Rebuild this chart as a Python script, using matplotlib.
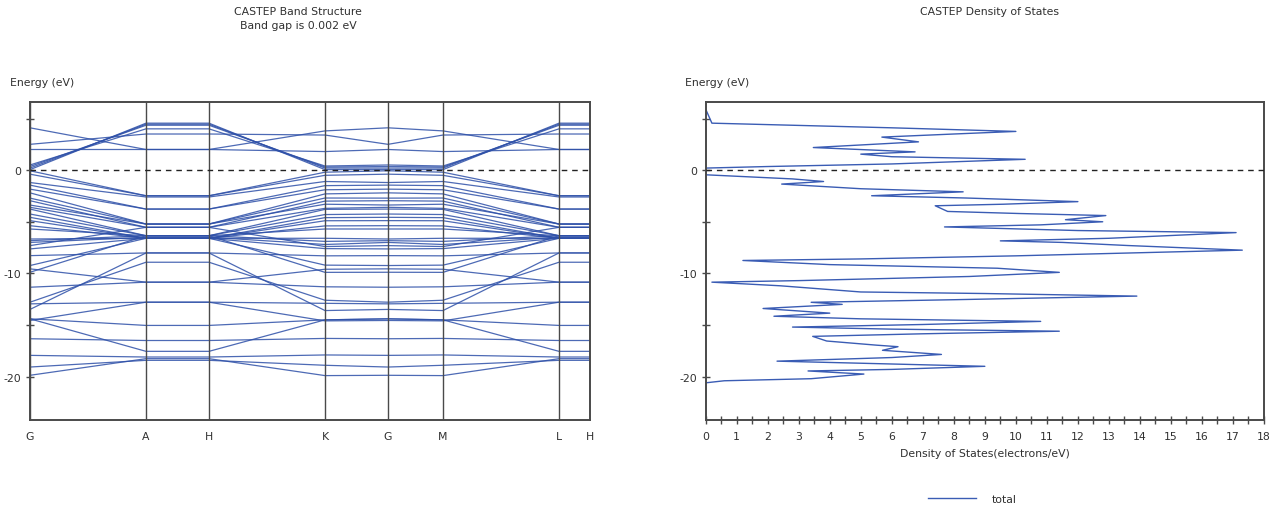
import numpy as np
import matplotlib.pyplot as plt
from matplotlib.ticker import MultipleLocator, FixedLocator, NullFormatter

plt.rcParams['font.family'] = 'DejaVu Sans'
plt.rcParams['font.size'] = 7.8
plt.rcParams['axes.unicode_minus'] = False

# k-path through the Brillouin zone
k_labels = ['G', 'A', 'H', 'K', 'G', 'M', 'L', 'H']
k_dist = [0, 116, 179, 295, 358, 413, 529, 560]

# band energies (eV) at Gamma, at K/M and at A/H/L
e_gamma = [0.05, 0.2, 0.35, 0.5, 2.0, 2.5, 4.1,
           -0.06, -0.39, -1.2, -1.45, -1.84, -2.2, -2.71, -2.96, -3.38, -3.6,
           -3.77, -4.25, -4.57, -4.89, -5.38, -5.70, -6.67, -6.83, -7.0, -7.31,
           -7.63, -8.28, -9.24, -9.56, -9.89, -11.34, -12.79, -12.95, -13.49,
           -14.4, -14.56, -14.4, -16.33, -17.94, -19.07, -19.87]
e_km = [0.05, 0.2, 0.3, 0.4, 1.8, 3.4, 3.8,
        -0.2, -0.5, -1.1, -1.5, -1.9, -2.3, -2.7, -3.0, -3.3, -3.7,
        -3.8, -4.3, -4.6, -4.9, -5.4, -5.7, -6.6, -6.9, -7.2, -7.4,
        -7.6, -8.3, -9.2, -9.6, -9.9, -11.3, -12.6, -12.9, -13.6,
        -14.5, -14.6, -14.5, -16.3, -17.9, -18.9, -19.9]
e_a = [4.55, 4.45, 4.35, 4.0, 2.0, 3.5, 2.0,
       -2.48, -2.48, -2.6, -3.77, -3.77, -5.22, -5.22, -5.54, -5.22, -5.54,
       -6.35, -6.35, -6.6, -6.6, -6.6, -6.35, -6.6, -6.35, -6.5, -5.54,
       -6.6, -8.02, -6.6, -10.85, -6.35, -10.85, -8.92, -12.79, -8.02,
       -15.04, -12.79, -17.55, -16.5, -18.1, -18.42, -18.26]

# total density of states: (states/eV, energy in eV)
dos_energy = [-22.0, -20.6, -20.4, -20.2, -19.75, -19.45, -19.3, -19.0, -18.5,
              -18.15, -17.85, -17.45, -17.1, -16.95, -16.55, -16.1, -15.85,
              -15.6, -15.4, -15.2, -14.95, -14.65, -14.4, -14.15, -13.85,
              -13.4, -13.0, -12.8, -12.55, -12.2, -11.95, -11.8, -11.2,
              -10.85, -10.7, -10.3, -9.9, -9.5, -9.15, -8.75, -8.6, -8.3,
              -7.75, -7.3, -7.0, -6.85, -6.6, -6.05, -5.85, -5.5, -5.3, -5.0,
              -4.8, -4.4, -4.2, -4.0, -3.45, -3.3, -3.05, -2.7, -2.48, -2.1,
              -1.8, -1.35, -1.1, -0.85, -0.45, 0.2, 0.35, 0.6, 1.05, 1.3,
              1.55, 1.77, 2.19, 2.74, 3.2, 3.5, 3.75, 4.1, 4.55, 5.9]
dos_total = [0.0, 0.0, 0.6, 3.4, 5.1, 3.3, 6.0, 9.0, 2.3,
             6.0, 7.6, 5.7, 6.2, 5.5, 3.9, 3.45, 7.0,
             11.4, 6.0, 2.8, 7.0, 10.8, 5.0, 2.2, 4.0,
             1.85, 4.4, 3.4, 8.0, 13.9, 9.0, 5.0, 2.4,
             0.2, 3.0, 8.5, 11.4, 9.4, 4.0, 1.2, 5.0, 10.0,
             17.3, 13.6, 11.5, 9.5, 13.0, 17.1, 12.0, 7.7, 10.8, 12.8,
             11.6, 12.9, 10.1, 7.8, 7.4, 9.6, 12.0, 8.4, 5.35, 8.3,
             5.0, 2.45, 3.8, 2.8, 0.0, 0.0, 2.0, 6.0, 10.3, 6.0,
             5.0, 6.75, 3.47, 6.86, 5.68, 8.0, 10.0, 6.0, 0.2, 0.0]

band_color = '#2E50A8'
frame_color = '#4a4a4a'
text_color = '#303030'

W, H = 1282, 510
fig = plt.figure(figsize=(W / 100, H / 100), dpi=100)

ax1 = fig.add_axes([30 / W, 1 - 421 / H, 560 / W, 318 / H])
ax2 = fig.add_axes([705.7 / W, 1 - 421 / H, 558.3 / W, 318 / H])

# bands: Gamma -> A -> H -> K -> G -> M -> L -> H
for g, km, a in zip(e_gamma, e_km, e_a):
    ax1.plot(k_dist, [g, a, a, km, g, km, a, a], color=band_color, lw=0.9, alpha=0.85)

for k in k_dist:
    ax1.axvline(k, color=frame_color, lw=1.0, zorder=3)
ax1.axhline(0, color='#222222', lw=1.0, ls=(0, (4, 3.5)), zorder=4)

ax1.set_xlim(k_dist[0], k_dist[-1])
ax1.set_xticks(k_dist)
ax1.set_xticklabels(k_labels)
ax1.tick_params(axis='x', length=0, pad=8, colors=text_color)

ax2.plot(dos_total, dos_energy, color='#3A5CB4', lw=1.0, label='total')
ax2.axhline(0, color='#222222', lw=1.0, ls=(0, (4, 3.5)), zorder=4)
ax2.set_xlim(0, 18)
ax2.xaxis.set_major_locator(MultipleLocator(1))
ax2.xaxis.set_minor_locator(MultipleLocator(0.5))
ax2.tick_params(axis='x', which='both', direction='inout', length=6, width=1,
                colors=frame_color, labelcolor=text_color, pad=5)
ax2.set_xlabel('Density of States(electrons/eV)', color=text_color, labelpad=5)

for ax in (ax1, ax2):
    ax.set_ylim(-24.2, 6.6)
    ax.yaxis.set_major_locator(FixedLocator([-20, -10, 0]))
    ax.yaxis.set_minor_locator(FixedLocator([-15, -5, 5]))
    ax.yaxis.set_minor_formatter(NullFormatter())
    ax.tick_params(axis='y', which='both', direction='inout', length=6, width=1,
                   colors=frame_color, labelcolor=text_color, pad=3)
    for s in ax.spines.values():
        s.set_color(frame_color)
        s.set_linewidth(1.4)

fig.text(298 / W, 1 - 12 / H, 'CASTEP Band Structure', ha='center', va='center',
         color=text_color)
fig.text(298 / W, 1 - 26 / H, 'Band gap is 0.002 eV', ha='center', va='center',
         color=text_color)
fig.text(989 / W, 1 - 12 / H, 'CASTEP Density of States', ha='center', va='center',
         color=text_color)
fig.text(10 / W, 1 - 83 / H, 'Energy (eV)', ha='left', va='center', color=text_color)
fig.text(685 / W, 1 - 83 / H, 'Energy (eV)', ha='left', va='center', color=text_color)

fig.legend(loc='center', bbox_to_anchor=(972 / W, 1 - 500 / H), frameon=False,
           handlelength=4.5, handletextpad=1.4, labelcolor=text_color)

fig.savefig('out.png', dpi=100)
